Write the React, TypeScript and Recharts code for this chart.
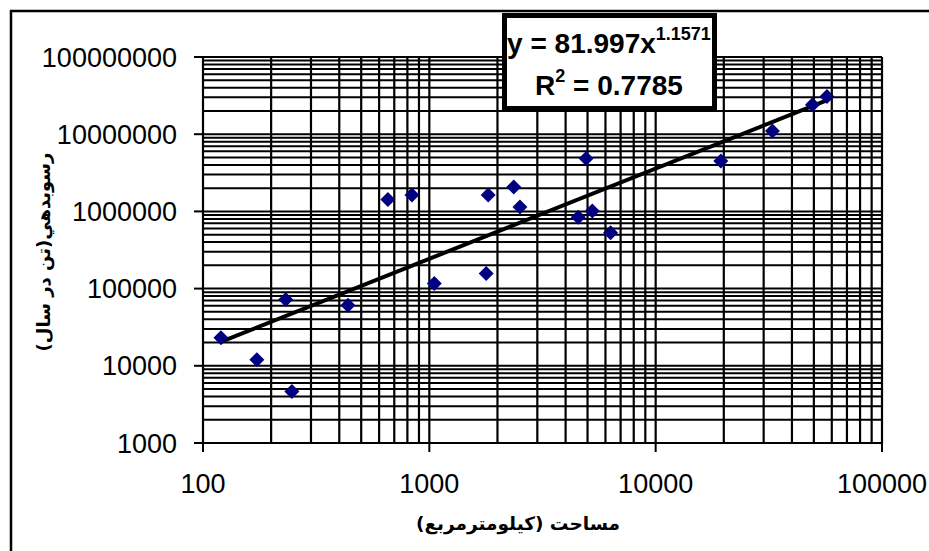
import React from "react";
import {
  ScatterChart,
  Scatter,
  XAxis,
  YAxis,
  ReferenceLine,
} from "recharts";

const areaKm2 = [
  120, 173, 232, 247, 437, 656, 838, 1052, 1783, 1820,
  2360, 2513, 4550, 4930, 5250, 6320, 19400, 32800, 49300, 57100,
];
const sedimentYield = [
  23100, 12000, 72000, 4640, 60700, 1430000, 1630000, 116000, 157000, 1630000,
  2070000, 1140000, 843000, 4830000, 1010000, 528000, 4500000, 11000000, 24000000, 30900000,
];

// Power trendline end points
const trendArea = [120, 56200];
const trendYield = [20400, 27000000];

const xTicks = [100, 1000, 10000, 100000];
const yTicks = [1000, 10000, 100000, 1000000, 10000000, 100000000];
const minorSteps = [1, 2, 3, 4, 5, 6, 7, 8, 9];

const xTitle = "مساحت (كيلومترمربع)";
const yTitle = "رسوبدهي(تن در سال)";
const eqMain = "y = 81.997x";
const eqExp = "1.1571";
const r2Value = " = 0.7785";

const xGrid: number[] = [];
xTicks.slice(0, -1).forEach((d) => minorSteps.forEach((m) => xGrid.push(d * m)));
xGrid.push(xTicks[xTicks.length - 1]);
const yGrid: number[] = [];
yTicks.slice(0, -1).forEach((d) => minorSteps.forEach((m) => yGrid.push(d * m)));
yGrid.push(yTicks[yTicks.length - 1]);

const points = areaKm2.map((x, i) => ({ x, y: sedimentYield[i] }));
const trend = trendArea.map((x, i) => ({ x, y: trendYield[i] }));

const Diamond = (props: any) => {
  const { cx, cy } = props;
  if (cx == null || cy == null) return null;
  const r = 7.5;
  return (
    <path
      d={`M${cx},${cy - r}L${cx + r},${cy}L${cx},${cy + r}L${cx - r},${cy}Z`}
      fill="#000080"
    />
  );
};

const NoDot = () => null;

const tickFont = {
  fontFamily: "'Liberation Sans', Arial, sans-serif",
  fontSize: 27,
  fill: "#000",
};

export default function App() {
  return (
    <div
      style={{
        position: "absolute",
        left: 0,
        top: 0,
        width: 929,
        height: 551,
        background: "#fff",
      }}
    >
      <ScatterChart
        width={929}
        height={551}
        margin={{ top: 57, right: 47, bottom: 0, left: 0 }}
      >
        <XAxis
          type="number"
          dataKey="x"
          scale="log"
          domain={[100, 100000]}
          ticks={xTicks}
          allowDataOverflow
          height={108}
          stroke="#000"
          strokeWidth={2}
          tickSize={9}
          tickMargin={22}
          tick={tickFont}
          interval={0}
        />
        <YAxis
          type="number"
          dataKey="y"
          scale="log"
          domain={[1000, 100000000]}
          ticks={yTicks}
          allowDataOverflow
          width={203}
          stroke="#000"
          strokeWidth={2}
          tickSize={9}
          tickMargin={17}
          tick={tickFont}
          interval={0}
        />
        {yGrid.map((v) => (
          <ReferenceLine
            key={`h${v}`}
            y={v}
            stroke="#000"
            strokeWidth={2}
            ifOverflow="extendDomain"
          />
        ))}
        {xGrid.map((v) => (
          <ReferenceLine
            key={`v${v}`}
            x={v}
            stroke="#000"
            strokeWidth={2.2}
            ifOverflow="extendDomain"
          />
        ))}
        <Scatter
          data={trend}
          line={{ stroke: "#000", strokeWidth: 4 }}
          shape={NoDot}
          isAnimationActive={false}
        />
        <Scatter data={points} shape={Diamond} isAnimationActive={false} />
      </ScatterChart>
      <svg
        width={929}
        height={551}
        style={{ position: "absolute", left: 0, top: 0, pointerEvents: "none" }}
      >
        <line x1={11} y1={10} x2={11} y2={551} stroke="#000" strokeWidth={2.5} />
        <line x1={10} y1={11} x2={929} y2={11} stroke="#000" strokeWidth={2.5} />
        <rect
          x={504.5}
          y={15.5}
          width={210}
          height={93}
          fill="#fff"
          stroke="#000"
          strokeWidth={5}
        />
        <text
          x={609}
          y={53}
          textAnchor="middle"
          fontFamily="'Liberation Sans', Arial, sans-serif"
          fontWeight="bold"
          fontSize={28}
          fill="#000"
        >
          <tspan>{eqMain}</tspan>
          <tspan fontSize={18} dy={-13}>
            {eqExp}
          </tspan>
        </text>
        <text
          x={609}
          y={95}
          textAnchor="middle"
          fontFamily="'Liberation Sans', Arial, sans-serif"
          fontWeight="bold"
          fontSize={28}
          fill="#000"
        >
          <tspan>R</tspan>
          <tspan fontSize={18} dy={-13}>
            2
          </tspan>
          <tspan dy={13}>{r2Value}</tspan>
        </text>
        <text
          x={518}
          y={523}
          textAnchor="middle"
          dominantBaseline="central"
          fontFamily="'DejaVu Sans', sans-serif"
          fontWeight="bold"
          fontSize={18.5}
          fill="#000"
          style={{ direction: "rtl", unicodeBidi: "embed" }}
        >
          {xTitle}
        </text>
        <text
          x={0}
          y={0}
          transform="translate(43,252) rotate(-90)"
          textAnchor="middle"
          dominantBaseline="central"
          fontFamily="'DejaVu Sans', sans-serif"
          fontWeight="bold"
          fontSize={18}
          fill="#000"
          style={{ direction: "rtl", unicodeBidi: "embed" }}
        >
          {yTitle}
        </text>
      </svg>
    </div>
  );
}
